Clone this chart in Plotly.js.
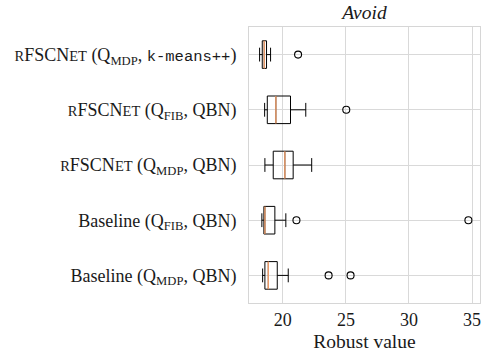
<!DOCTYPE html>
<html>
<head>
<meta charset="utf-8">
<script src="https://cdn.plot.ly/plotly-3.0.1.min.js"></script>
<style>html,body{margin:0;padding:0;background:#fff;}#chart{width:489px;height:360px;}</style>
</head>
<body>
<div id="chart"></div>
<script>
const SERIF = 'Times New Roman, Liberation Serif, Times, serif';
const SC = 'font-size:14.5px';
const MONO = "font-family:Courier New, Liberation Mono, monospace;font-size:15.5px";
const categories = [
  '<span style="' + SC + '">R</span>FSCN<span style="' + SC + '">ET</span> (Q<sub>MDP</sub>, <span style="' + MONO + '">k-means++</span>)',
  '<span style="' + SC + '">R</span>FSCN<span style="' + SC + '">ET</span> (Q<sub>FIB</sub>, QBN)',
  '<span style="' + SC + '">R</span>FSCN<span style="' + SC + '">ET</span> (Q<sub>MDP</sub>, QBN)',
  'Baseline (Q<sub>FIB</sub>, QBN)',
  'Baseline (Q<sub>MDP</sub>, QBN)'
];
const positions = [5, 4, 3, 2, 1];
const lowerWhisker = [18.16, 18.56, 18.58, 18.34, 18.40];
const q1 = [18.37, 18.77, 19.24, 18.50, 18.58];
const median = [18.53, 19.45, 20.16, 18.58, 18.85];
const q3 = [18.71, 20.61, 20.82, 19.37, 19.56];
const upperWhisker = [19.03, 21.82, 22.29, 20.24, 20.43];
const outliers = [[21.21], [25.03], [], [21.08, 34.71], [23.63, 25.37]];
const xTicks = [20, 25, 30, 35];

const boxWidth = 0.5;
const traces = [];
traces.push({
  type: 'box', orientation: 'h',
  y: positions, q1: q1, median: median, q3: q3,
  lowerfence: lowerWhisker, upperfence: upperWhisker,
  width: boxWidth, whiskerwidth: 0.5, boxpoints: false,
  fillcolor: 'rgba(255,255,255,0)',
  line: {color: '#000', width: 1},
  hoverinfo: 'skip', showlegend: false
});
const mx = [], my = [];
median.forEach((m, i) => { mx.push(m, m, null); my.push(positions[i] - boxWidth/2, positions[i] + boxWidth/2, null); });
traces.push({type: 'scatter', mode: 'lines', x: mx, y: my, line: {color: '#f5a06a', width: 1.3}, showlegend: false, hoverinfo: 'skip'});
const ox = [], oy = [];
outliers.forEach((arr, i) => arr.forEach(v => { ox.push(v); oy.push(positions[i]); }));
traces.push({type: 'scatter', mode: 'markers', x: ox, y: oy, marker: {symbol: 'circle-open', size: 7, color: '#000', line: {width: 1.1, color: '#000'}}, showlegend: false, hoverinfo: 'skip'});

const layout = {
  width: 489, height: 360,
  margin: {l: 249, r: 9, t: 27, b: 57},
  paper_bgcolor: '#fff', plot_bgcolor: '#fff',
  font: {family: SERIF, size: 18, color: '#1a1a1a'},
  title: {text: '<i>Avoid</i>', x: 0.5, xref: 'paper', y: 1, yref: 'paper', yanchor: 'bottom', pad: {b: 8}, font: {family: SERIF, size: 19.5, color: '#1a1a1a'}},
  xaxis: {
    range: [17.32, 35.63], tickvals: xTicks, ticktext: xTicks.map(String),
    showgrid: true, gridcolor: '#d9d9d9', gridwidth: 1,
    showline: true, mirror: true, linecolor: '#d6d6d6', linewidth: 1,
    ticks: '', zeroline: false,
    title: {text: 'Robust value', font: {family: SERIF, size: 19.5}, standoff: 5},
    tickfont: {family: SERIF, size: 18}
  },
  yaxis: {
    range: [0.5, 5.5], tickvals: positions, ticktext: categories,
    showgrid: true, gridcolor: '#d9d9d9', gridwidth: 1,
    showline: true, mirror: true, linecolor: '#d6d6d6', linewidth: 1,
    ticks: '', zeroline: false, ticklabelstandoff: 8,
    tickfont: {family: SERIF, size: 18}
  }
};
Plotly.newPlot('chart', traces, layout, {displayModeBar: false, staticPlot: true});
</script>
</body>
</html>
